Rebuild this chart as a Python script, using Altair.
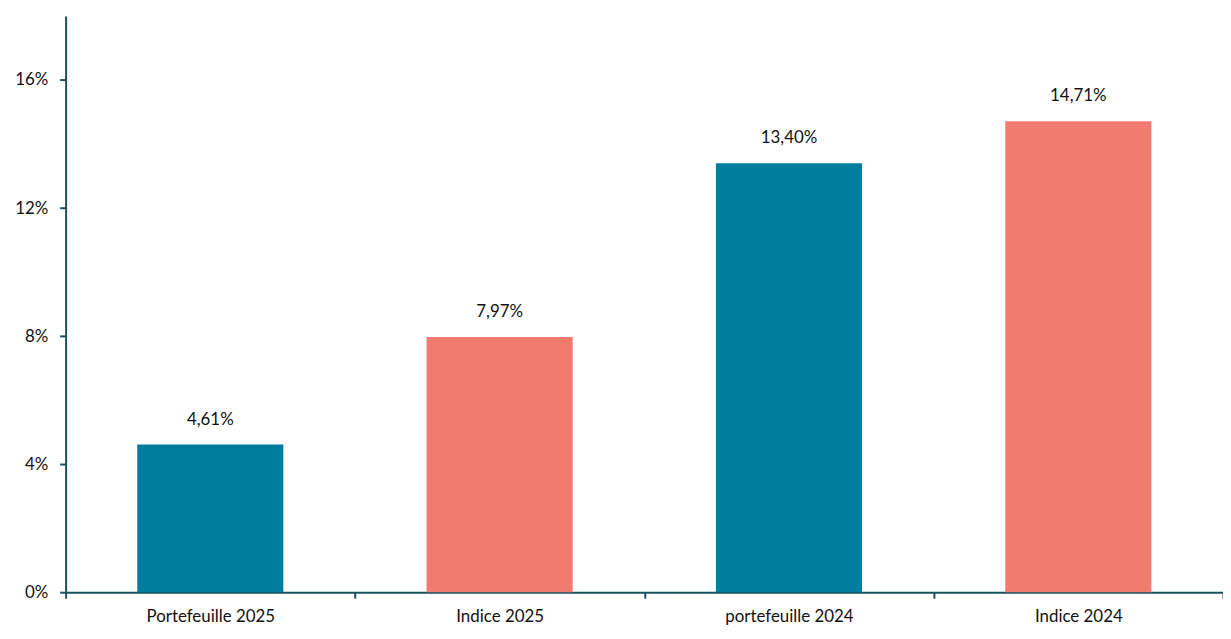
import altair as alt
import pandas as pd

categories = ["Portefeuille 2025", "Indice 2025", "portefeuille 2024", "Indice 2024"]
series = ["Portefeuille", "Indice", "Portefeuille", "Indice"]
values = [0.0461, 0.0797, 0.1340, 0.1471]
y_ticks = [0, 0.04, 0.08, 0.12, 0.16]

labels = [f"{v*100:.2f}%".replace(".", ",") for v in values]
df = pd.DataFrame({"cat": categories, "serie": series, "val": values, "label": labels})

FONT = "Lato"
AXIS_COLOR = "#17505F"
TEXT_COLOR = "#111111"

x = alt.X("cat:N", sort=categories, title=None,
          scale=alt.Scale(paddingInner=0, paddingOuter=0),
          axis=alt.Axis(labelAngle=0, tickBand="extent", domainColor=AXIS_COLOR,
                        domainWidth=2, tickColor=AXIS_COLOR, tickWidth=2, tickSize=6,
                        labelPadding=10, labelFontSize=17, labelColor=TEXT_COLOR,
                        labelFont=FONT, grid=False))
y = alt.Y("val:Q", title=None,
          scale=alt.Scale(domain=[0, 0.18], nice=False),
          axis=alt.Axis(values=y_ticks, format=".0%", domainColor=AXIS_COLOR,
                        domainWidth=2, tickColor=AXIS_COLOR, tickWidth=2, tickSize=6,
                        labelPadding=12, labelFontSize=17, labelColor=TEXT_COLOR,
                        labelFont=FONT, grid=False))

color = alt.Color("serie:N", legend=None,
                  scale=alt.Scale(domain=["Portefeuille", "Indice"],
                                  range=["#007C9E", "#F27B70"]))

bars = alt.Chart(df).mark_bar(width=alt.RelativeBandSize(0.505)).encode(x=x, y=y, color=color)
text = alt.Chart(df).mark_text(dy=-25, baseline="middle", fontSize=17,
                               font=FONT, color=TEXT_COLOR).encode(
    x=alt.X("cat:N", sort=categories), y="val:Q", text="label:N")

chart = (bars + text).properties(
    width=1165, height=580,
    autosize=alt.AutoSizeParams(type="none"),
    padding={"left": 58, "top": 6, "right": 0, "bottom": 34},
).configure_view(stroke=None)

chart.save("out.html", embed_options={"renderer": "svg", "actions": False})
